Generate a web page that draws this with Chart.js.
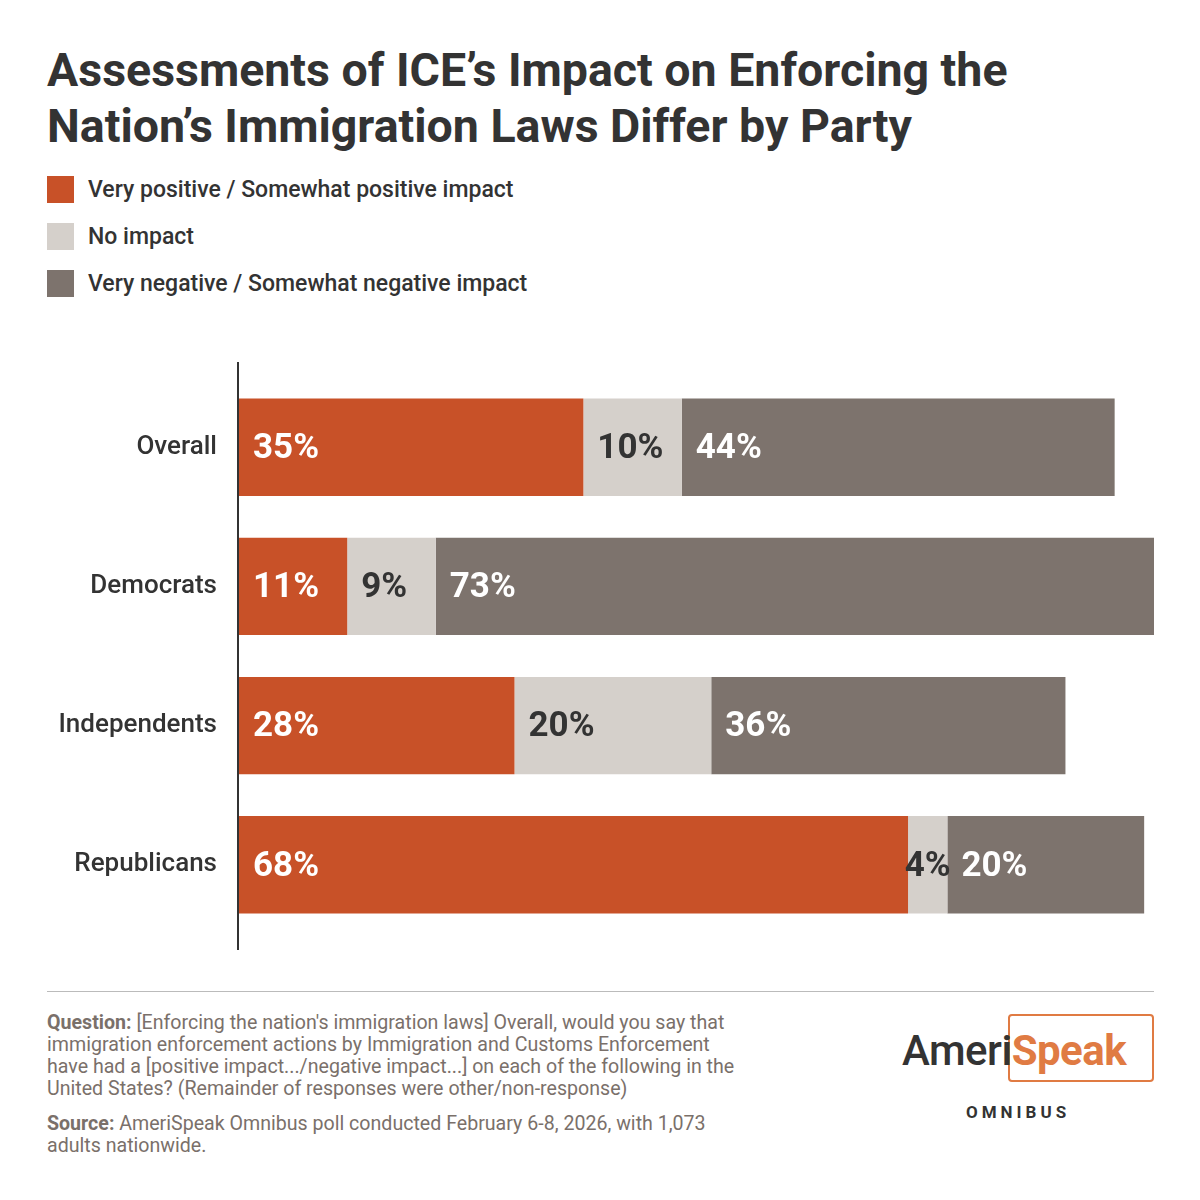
<!DOCTYPE html>
<html>
<head>
<meta charset="utf-8">
<script src="https://cdn.jsdelivr.net/npm/chart.js@4"></script>
<style>
  body { margin: 0; width: 1200px; height: 1200px; background: #fff; font-family: Roboto, sans-serif; color: #333; position: relative; overflow: hidden; }
  h1 { position: absolute; left: 47px; top: 42px; margin: 0; font-size: 46.5px; line-height: 56px; font-weight: 700; color: #333; letter-spacing: 0px; }
  .legend { position: absolute; left: 47px; top: 166px; font-size: 23px; font-weight: 500; }
  .legend div { display: flex; align-items: center; height: 47px; }
  .legend span { display: inline-block; width: 27px; height: 27px; margin-right: 14px; }
  #wrap { position: absolute; left: 40px; top: 348px; width: 1120px; height: 616px; }
  .rule { position: absolute; left: 47px; top: 991px; width: 1107px; border-top: 1.5px solid #bbb; }
  .foot { position: absolute; left: 47px; width: 705px; font-size: 19.6px; line-height: 22px; color: #7a706a; }
  .foot b { font-weight: 700; }
  .logo { position: absolute; left: 900px; top: 1014px; width: 260px; height: 110px; }
  .logo .box { position: absolute; left: 108px; top: 0; width: 142px; height: 64px; border: 2.5px solid #E07B43; border-radius: 4px; }
  .logo .name { position: absolute; left: 2px; top: 12px; font-size: 42px; font-weight: 500; color: #333; letter-spacing: -0.5px; }
  .logo .name em { font-style: normal; color: #E07B43; font-weight: 700; }
  .logo .omni { position: absolute; left: 66px; top: 88px; font-size: 17px; font-weight: 700; letter-spacing: 4px; color: #333; }
</style>
</head>
<body>
<h1>Assessments of ICE’s Impact on Enforcing the<br>Nation’s Immigration Laws Differ by Party</h1>
<div class="legend">
  <div><span style="background:#C85128"></span>Very positive / Somewhat positive impact</div>
  <div><span style="background:#D5D0CB"></span>No impact</div>
  <div><span style="background:#7D736D"></span>Very negative / Somewhat negative impact</div>
</div>
<div id="wrap"><canvas id="chart"></canvas></div>
<div class="rule"></div>
<div class="foot" style="top:1012px"><b>Question:</b> [Enforcing the nation's immigration laws] Overall, would you say that immigration enforcement actions by Immigration and Customs Enforcement have had a [positive impact.../negative impact...] on each of the following in the United States? (Remainder of responses were other/non-response)</div>
<div class="foot" style="top:1113px"><b>Source:</b> AmeriSpeak Omnibus poll conducted February 6-8, 2026, with 1,073 adults nationwide.</div>
<div class="logo">
  <div class="box"></div>
  <div class="name">Ameri<em>Speak</em></div>
  <div class="omni">OMNIBUS</div>
</div>
<script>
const categories = ["Overall", "Democrats", "Independents", "Republicans"];
const positive = [35, 11, 28, 68];
const noImpact = [10, 9, 20, 4];
const negative = [44, 73, 36, 20];
const seriesNames = ["Very positive / Somewhat positive impact", "No impact", "Very negative / Somewhat negative impact"];
const colors = ["#C85128", "#D5D0CB", "#7D736D"];
const labelColors = ["#fff", "#333", "#fff"];

const barLabels = {
  id: "barLabels",
  afterDatasetsDraw(chart) {
    const ctx = chart.ctx;
    ctx.save();
    ctx.font = "bold 35px Roboto";
    ctx.textBaseline = "middle";
    chart.data.datasets.forEach((ds, di) => {
      chart.getDatasetMeta(di).data.forEach((bar, i) => {
        const text = ds.data[i] + "%";
        const start = bar.base, end = bar.x;
        const w = ctx.measureText(text).width;
        ctx.fillStyle = labelColors[di];
        if (end - start < w + 20) {
          ctx.textAlign = "center";
          ctx.fillText(text, (start + end) / 2, bar.y + 2);
        } else {
          ctx.textAlign = "left";
          ctx.fillText(text, start + 14, bar.y + 2);
        }
      });
    });
    ctx.restore();
  }
};

// vertical axis line, a bit longer than the bars
const axisLine = {
  id: "axisLine",
  afterDraw(chart) {
    const ctx = chart.ctx, a = chart.chartArea;
    ctx.save();
    ctx.strokeStyle = "#333";
    ctx.lineWidth = 2;
    ctx.beginPath();
    ctx.moveTo(a.left - 1, 14);
    ctx.lineTo(a.left - 1, chart.height - 14);
    ctx.stroke();
    ctx.restore();
  }
};

new Chart(document.getElementById("chart"), {
  type: "bar",
  data: {
    labels: categories,
    datasets: [positive, noImpact, negative].map((d, i) => ({
      label: seriesNames[i], data: d, backgroundColor: colors[i],
      barPercentage: 1, categoryPercentage: 0.7
    }))
  },
  options: {
    indexAxis: "y",
    responsive: true,
    maintainAspectRatio: false,
    animation: false,
    layout: { padding: { top: 0, bottom: 0, right: 6 } },
    plugins: { legend: { display: false }, tooltip: { enabled: false } },
    scales: {
      x: { stacked: true, min: 0, max: 93, display: false },
      y: {
        stacked: true,
        grid: { display: false },
        border: { display: false },
        ticks: { color: "#333", font: { size: 26, weight: 500, family: "Roboto" }, padding: 14 },
        afterFit(s) { s.width = 199; }
      }
    }
  },
  plugins: [barLabels, axisLine]
});
</script>
</body>
</html>
